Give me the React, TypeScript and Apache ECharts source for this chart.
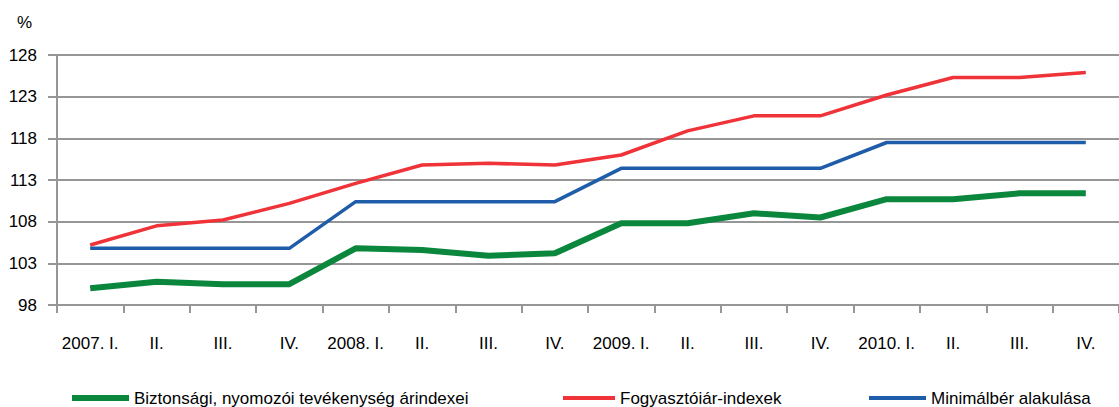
import React, { useEffect, useRef } from "react";
import * as echarts from "echarts";

const BASE = 98;
const categories = [
  "2007. I.", "II.", "III.", "IV.",
  "2008. I.", "II.", "III.", "IV.",
  "2009. I.", "II.", "III.", "IV.",
  "2010. I.", "II.", "III.", "IV.",
];
const biztonsagi = [100.0, 100.8, 100.5, 100.5, 104.8, 104.6, 103.9, 104.2, 107.8, 107.8, 109.0, 108.5, 110.7, 110.7, 111.4, 111.4];
const fogyasztoi = [105.2, 107.5, 108.2, 110.2, 112.6, 114.8, 115.0, 114.8, 116.0, 118.9, 120.7, 120.7, 123.2, 125.3, 125.3, 125.9];
const minimalber = [104.8, 104.8, 104.8, 104.8, 110.4, 110.4, 110.4, 110.4, 114.4, 114.4, 114.4, 114.4, 117.5, 117.5, 117.5, 117.5];
const seriesNames = ["Biztonsági, nyomozói tevékenység árindexei", "Fogyasztóiár-indexek", "Minimálbér alakulása"];
const seriesColors = ["#0a873d", "#ef3339", "#1f5ca9"];

const FONT = "'Liberation Sans', Arial, sans-serif";
const GRID = "#969696";

export default function App() {
  const ref = useRef<HTMLDivElement>(null);
  useEffect(() => {
    if (!ref.current) return;
    const chart = echarts.init(ref.current, undefined, { renderer: "svg" });
    const shift = (arr: number[]) => arr.map((v) => +(v - BASE).toFixed(2));
    const legendCommon = {
      top: 384,
      icon: "rect",
      textStyle: { fontSize: 17, lineHeight: 18, fontFamily: FONT, color: "#000" },
    };
    chart.setOption({
      animation: false,
      backgroundColor: "#ffffff",
      textStyle: { fontFamily: FONT },
      grid: { left: 57, right: -9, top: 55, bottom: 102, containLabel: false },
      graphic: [
        {
          type: "text",
          left: 17,
          top: 14,
          style: { text: "%", fontSize: 17, fontFamily: FONT, fill: "#000" },
        },
      ],
      legend: [
        { ...legendCommon, left: 67, itemWidth: 57, itemHeight: 6, data: [seriesNames[0]] },
        { ...legendCommon, left: 558, itemWidth: 52, itemHeight: 4, data: [seriesNames[1]] },
        { ...legendCommon, left: 864, itemWidth: 57, itemHeight: 4, data: [seriesNames[2]] },
      ],
      xAxis: {
        type: "category",
        data: categories,
        boundaryGap: true,
        axisLine: { show: true, lineStyle: { color: GRID, width: 2 } },
        axisTick: { show: true, interval: 0, length: 8, lineStyle: { color: GRID, width: 2 } },
        axisLabel: { interval: 0, margin: 30, fontSize: 17, fontFamily: FONT, color: "#000" },
        splitLine: { show: false },
      },
      yAxis: {
        type: "value",
        min: 0,
        max: 30,
        interval: 5,
        axisLine: { show: true, lineStyle: { color: GRID, width: 2 } },
        axisTick: { show: true, length: 9, lineStyle: { color: GRID, width: 2 } },
        axisLabel: {
          margin: 20,
          fontSize: 17,
          fontFamily: FONT,
          color: "#000",
          formatter: (v: number) => String(v + BASE),
        },
        splitLine: { show: true, lineStyle: { color: GRID, width: 2 } },
      },
      series: [
        {
          name: seriesNames[0],
          type: "line",
          data: shift(biztonsagi),
          showSymbol: false,
          symbol: "none",
          lineStyle: { color: seriesColors[0], width: 6 },
          itemStyle: { color: seriesColors[0] },
          z: 3,
        },
        {
          name: seriesNames[1],
          type: "line",
          data: shift(fogyasztoi),
          showSymbol: false,
          symbol: "none",
          lineStyle: { color: seriesColors[1], width: 3.5 },
          itemStyle: { color: seriesColors[1] },
          z: 2,
        },
        {
          name: seriesNames[2],
          type: "line",
          data: shift(minimalber),
          showSymbol: false,
          symbol: "none",
          lineStyle: { color: seriesColors[2], width: 3.5 },
          itemStyle: { color: seriesColors[2] },
          z: 2,
        },
      ],
    });
    return () => chart.dispose();
  }, []);
  return (
    <div
      ref={ref}
      style={{ position: "fixed", left: 0, top: 0, width: 1119, height: 407, background: "#fff" }}
    />
  );
}
